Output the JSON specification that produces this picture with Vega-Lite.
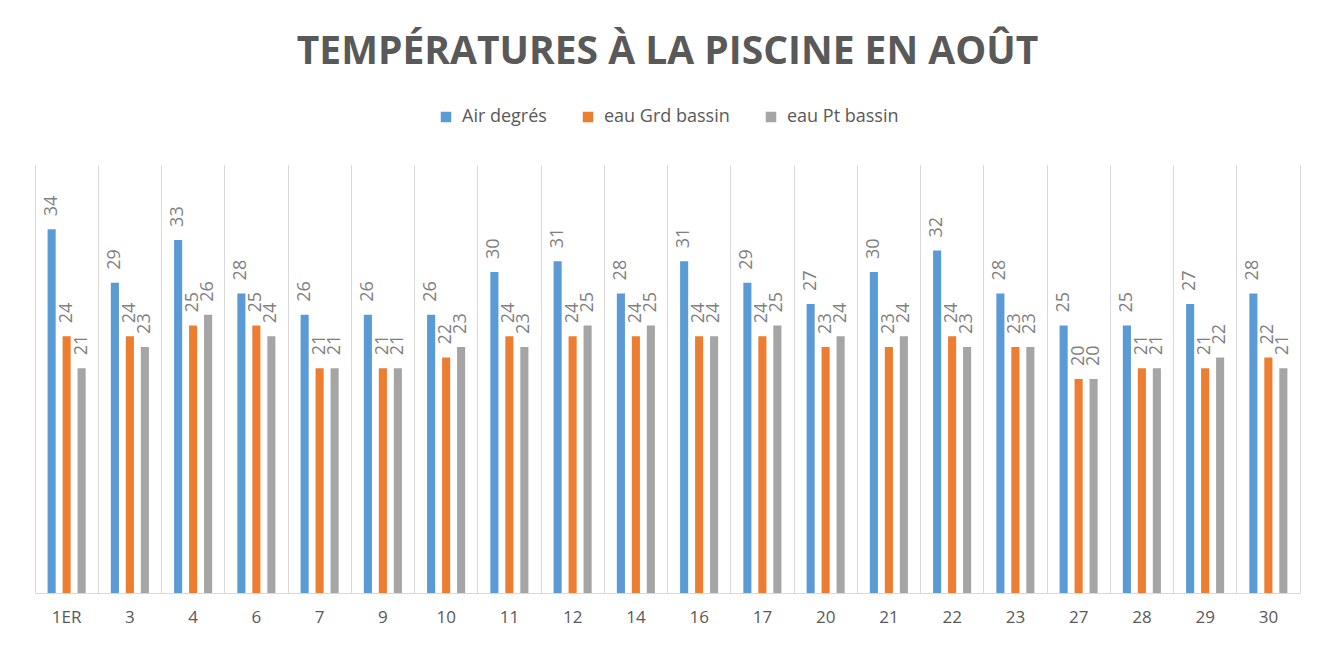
{
  "$schema": "https://vega.github.io/schema/vega-lite/v6.json",
  "autosize": "none",
  "width": 1265,
  "height": 428,
  "padding": {"top": 165, "left": 35, "right": 34, "bottom": 55},
  "background": "white",
  "title": {
    "text": "TEMPÉRATURES À LA PISCINE EN AOÛT",
    "font": "Open Sans",
    "fontSize": 39,
    "fontWeight": "bold",
    "color": "#595959",
    "anchor": "middle",
    "offset": 36
  },
  "data": {
    "values": [
      {"day": "1ER", "series": "Air degrés", "value": 34},
      {"day": "1ER", "series": "eau Grd bassin", "value": 24},
      {"day": "1ER", "series": "eau Pt bassin", "value": 21},
      {"day": "3", "series": "Air degrés", "value": 29},
      {"day": "3", "series": "eau Grd bassin", "value": 24},
      {"day": "3", "series": "eau Pt bassin", "value": 23},
      {"day": "4", "series": "Air degrés", "value": 33},
      {"day": "4", "series": "eau Grd bassin", "value": 25},
      {"day": "4", "series": "eau Pt bassin", "value": 26},
      {"day": "6", "series": "Air degrés", "value": 28},
      {"day": "6", "series": "eau Grd bassin", "value": 25},
      {"day": "6", "series": "eau Pt bassin", "value": 24},
      {"day": "7", "series": "Air degrés", "value": 26},
      {"day": "7", "series": "eau Grd bassin", "value": 21},
      {"day": "7", "series": "eau Pt bassin", "value": 21},
      {"day": "9", "series": "Air degrés", "value": 26},
      {"day": "9", "series": "eau Grd bassin", "value": 21},
      {"day": "9", "series": "eau Pt bassin", "value": 21},
      {"day": "10", "series": "Air degrés", "value": 26},
      {"day": "10", "series": "eau Grd bassin", "value": 22},
      {"day": "10", "series": "eau Pt bassin", "value": 23},
      {"day": "11", "series": "Air degrés", "value": 30},
      {"day": "11", "series": "eau Grd bassin", "value": 24},
      {"day": "11", "series": "eau Pt bassin", "value": 23},
      {"day": "12", "series": "Air degrés", "value": 31},
      {"day": "12", "series": "eau Grd bassin", "value": 24},
      {"day": "12", "series": "eau Pt bassin", "value": 25},
      {"day": "14", "series": "Air degrés", "value": 28},
      {"day": "14", "series": "eau Grd bassin", "value": 24},
      {"day": "14", "series": "eau Pt bassin", "value": 25},
      {"day": "16", "series": "Air degrés", "value": 31},
      {"day": "16", "series": "eau Grd bassin", "value": 24},
      {"day": "16", "series": "eau Pt bassin", "value": 24},
      {"day": "17", "series": "Air degrés", "value": 29},
      {"day": "17", "series": "eau Grd bassin", "value": 24},
      {"day": "17", "series": "eau Pt bassin", "value": 25},
      {"day": "20", "series": "Air degrés", "value": 27},
      {"day": "20", "series": "eau Grd bassin", "value": 23},
      {"day": "20", "series": "eau Pt bassin", "value": 24},
      {"day": "21", "series": "Air degrés", "value": 30},
      {"day": "21", "series": "eau Grd bassin", "value": 23},
      {"day": "21", "series": "eau Pt bassin", "value": 24},
      {"day": "22", "series": "Air degrés", "value": 32},
      {"day": "22", "series": "eau Grd bassin", "value": 24},
      {"day": "22", "series": "eau Pt bassin", "value": 23},
      {"day": "23", "series": "Air degrés", "value": 28},
      {"day": "23", "series": "eau Grd bassin", "value": 23},
      {"day": "23", "series": "eau Pt bassin", "value": 23},
      {"day": "27", "series": "Air degrés", "value": 25},
      {"day": "27", "series": "eau Grd bassin", "value": 20},
      {"day": "27", "series": "eau Pt bassin", "value": 20},
      {"day": "28", "series": "Air degrés", "value": 25},
      {"day": "28", "series": "eau Grd bassin", "value": 21},
      {"day": "28", "series": "eau Pt bassin", "value": 21},
      {"day": "29", "series": "Air degrés", "value": 27},
      {"day": "29", "series": "eau Grd bassin", "value": 21},
      {"day": "29", "series": "eau Pt bassin", "value": 22},
      {"day": "30", "series": "Air degrés", "value": 28},
      {"day": "30", "series": "eau Grd bassin", "value": 22},
      {"day": "30", "series": "eau Pt bassin", "value": 21}
    ]
  },
  "encoding": {
    "xOffset": {
      "field": "series",
      "type": "nominal",
      "scale": {"paddingInner": 0.46, "paddingOuter": 0.84}
    },
    "y": {
      "field": "value",
      "type": "quantitative",
      "scale": {"domain": [0, 40]},
      "axis": null
    }
  },
  "layer": [
    {
      "mark": {"type": "bar"},
      "encoding": {
        "x": {
          "field": "day",
          "type": "nominal",
          "sort": null,
          "scale": {"paddingInner": 0, "paddingOuter": 0},
          "axis": {
            "title": null,
            "labelAngle": 0,
            "labelFont": "Open Sans",
            "labelFontSize": 17,
            "labelColor": "#595959",
            "labelPadding": 16,
            "ticks": false,
            "domain": true,
            "domainColor": "#d9d9d9",
            "grid": true,
            "gridColor": "#d9d9d9",
            "bandPosition": 0
          }
        },
        "color": {
          "field": "series",
          "type": "nominal",
          "scale": {
            "domain": ["Air degrés", "eau Grd bassin", "eau Pt bassin"],
            "range": ["#5B9BD5", "#ED7D31", "#A5A5A5"]
          },
          "legend": {
            "title": null,
            "orient": "top",
            "direction": "horizontal",
            "offset": 39,
            "symbolType": "square",
            "symbolSize": 110,
            "symbolStrokeWidth": 0,
            "labelFont": "Open Sans",
            "labelFontSize": 18,
            "labelColor": "#595959",
            "columnPadding": 32,
            "labelOffset": 7
          }
        }
      }
    },
    {
      "mark": {
        "type": "text",
        "angle": 270,
        "align": "left",
        "baseline": "middle",
        "dx": 13,
        "font": "Open Sans",
        "fontSize": 18,
        "color": "#7f7f7f"
      },
      "encoding": {
        "x": {
          "field": "day",
          "type": "nominal",
          "sort": null,
          "axis": {
            "orient": "top",
            "title": null,
            "labels": false,
            "ticks": false,
            "domain": false,
            "grid": true,
            "gridColor": "#d9d9d9",
            "bandPosition": 1
          }
        },
        "text": {"field": "value", "type": "quantitative"}
      }
    }
  ],
  "resolve": {"axis": {"x": "independent"}},
  "config": {
    "view": {"stroke": null},
    "legend": {"layout": {"top": {"anchor": "middle"}}}
  }
}
